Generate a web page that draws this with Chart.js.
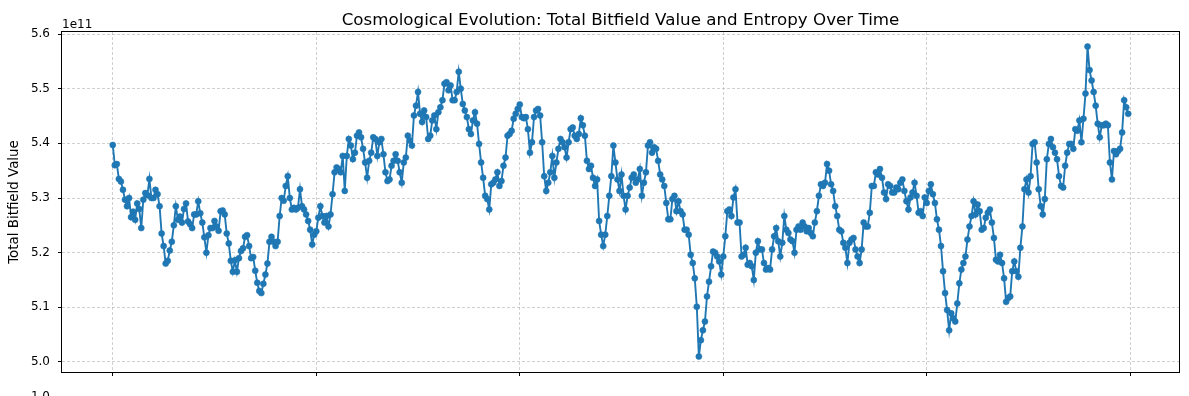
<!DOCTYPE html>
<html>
<head>
<meta charset="utf-8">
<title>Cosmological Evolution</title>
<script src="https://cdn.jsdelivr.net/npm/chart.js@4.4.1/dist/chart.umd.min.js"></script>
<style>
  html, body { margin: 0; padding: 0; background: #fff; }
  #wrap { width: 1189px; height: 396px; }
</style>
</head>
<body>
<div id="wrap"><canvas id="chart" width="1189" height="396"></canvas></div>
<script>
// total bitfield value per time step, in units of 1e11
const totalBitfield = [
  5.397, 5.36, 5.362, 5.335, 5.33, 5.315, 5.297, 5.285, 5.30, 5.265,
  5.275, 5.26, 5.29, 5.28, 5.245, 5.297, 5.309, 5.305, 5.335, 5.30,
  5.30, 5.315, 5.307, 5.285, 5.235, 5.212, 5.18, 5.185, 5.204, 5.22,
  5.25, 5.285, 5.26, 5.266, 5.255, 5.28, 5.29, 5.257, 5.252, 5.245,
  5.27, 5.27, 5.294, 5.272, 5.255, 5.228, 5.20, 5.232, 5.245, 5.245,
  5.258, 5.248, 5.24, 5.276, 5.277, 5.27, 5.235, 5.217, 5.185, 5.165,
  5.186, 5.165, 5.19, 5.203, 5.208, 5.229, 5.232, 5.212, 5.19, 5.192,
  5.167, 5.145, 5.13, 5.126, 5.143, 5.16, 5.18, 5.22, 5.229, 5.22,
  5.212, 5.22, 5.267, 5.30, 5.295, 5.322, 5.34, 5.30, 5.279, 5.282,
  5.279, 5.282, 5.316, 5.285, 5.279, 5.27, 5.258, 5.242, 5.215, 5.233,
  5.239, 5.264, 5.285, 5.267, 5.255, 5.267, 5.248, 5.27, 5.307, 5.347,
  5.356, 5.353, 5.347, 5.377, 5.313, 5.377, 5.408, 5.396, 5.371, 5.383,
  5.414, 5.42, 5.411, 5.39, 5.365, 5.337, 5.368, 5.383, 5.411,
  5.408, 5.377, 5.402, 5.408, 5.38, 5.347, 5.331, 5.334, 5.359, 5.368,
  5.38, 5.368, 5.347, 5.328, 5.365, 5.374, 5.414, 5.405, 5.396, 5.451,
  5.469, 5.494, 5.454, 5.439, 5.46, 5.448, 5.408, 5.414, 5.442, 5.451,
  5.426, 5.457, 5.466, 5.479, 5.509, 5.512, 5.497, 5.506, 5.479, 5.479,
  5.494, 5.531, 5.5, 5.472, 5.46, 5.448, 5.426, 5.417, 5.442,
  5.457, 5.436, 5.399, 5.365, 5.337, 5.304, 5.298, 5.279, 5.325, 5.328,
  5.334, 5.347, 5.322, 5.331, 5.359, 5.374, 5.414, 5.417, 5.423, 5.445,
  5.454, 5.463, 5.471, 5.448, 5.446, 5.448, 5.426, 5.383, 5.402, 5.448,
  5.46, 5.463, 5.451, 5.402, 5.34, 5.313, 5.328, 5.347, 5.377, 5.337,
  5.365, 5.39, 5.408, 5.402, 5.393, 5.374, 5.402, 5.426,
  5.429, 5.414, 5.408, 5.417, 5.446, 5.433, 5.414, 5.368, 5.353, 5.359,
  5.337, 5.322, 5.334, 5.258, 5.233, 5.212, 5.233, 5.267, 5.304, 5.34,
  5.396, 5.365, 5.334, 5.313, 5.343, 5.304, 5.279, 5.304, 5.319, 5.337,
  5.343, 5.328, 5.334, 5.353, 5.304, 5.328, 5.347, 5.396, 5.402, 5.383,
  5.393, 5.39, 5.368, 5.343, 5.334, 5.322, 5.291, 5.261,
  5.261, 5.298, 5.304, 5.276, 5.294, 5.276, 5.27, 5.242, 5.242, 5.233,
  5.196, 5.181, 5.153, 5.101, 5.01, 5.04, 5.058, 5.074, 5.12, 5.147,
  5.175, 5.202, 5.2, 5.193, 5.184, 5.16, 5.193, 5.23, 5.276, 5.279,
  5.267, 5.301, 5.316, 5.255, 5.255, 5.193, 5.196, 5.209, 5.178, 5.181,
  5.175, 5.15, 5.2, 5.221, 5.206, 5.206, 5.181, 5.169,
  5.172, 5.169, 5.206, 5.23, 5.245, 5.221, 5.193, 5.218, 5.267, 5.242,
  5.236, 5.224, 5.221, 5.2, 5.242, 5.248, 5.242, 5.255, 5.248, 5.239,
  5.245, 5.236, 5.23, 5.255, 5.276, 5.304, 5.325, 5.322, 5.328, 5.362,
  5.35, 5.325, 5.313, 5.285, 5.267, 5.242, 5.239, 5.218, 5.209, 5.181,
  5.218, 5.224, 5.227, 5.206, 5.193, 5.181, 5.206, 5.255,
  5.248, 5.248, 5.273, 5.322, 5.322, 5.347, 5.343, 5.353, 5.337, 5.31,
  5.298, 5.325, 5.322, 5.31, 5.31, 5.319, 5.316, 5.328, 5.334, 5.313,
  5.294, 5.279, 5.301, 5.31, 5.328, 5.304, 5.273, 5.276, 5.267, 5.301,
  5.291, 5.313, 5.325, 5.307, 5.291, 5.261, 5.242, 5.212, 5.166, 5.126,
  5.095, 5.058, 5.089, 5.08, 5.074, 5.107, 5.144, 5.169,
  5.181, 5.193, 5.224, 5.248, 5.267, 5.294, 5.27, 5.288, 5.276, 5.242,
  5.245, 5.264, 5.273, 5.279, 5.255, 5.227, 5.187, 5.184, 5.196, 5.181,
  5.153, 5.11, 5.117, 5.12, 5.166, 5.184, 5.166, 5.156, 5.209, 5.248,
  5.316, 5.334, 5.31, 5.34, 5.399, 5.402, 5.365, 5.316, 5.285, 5.27,
  5.298, 5.371, 5.399, 5.408, 5.393, 5.383, 5.371, 5.34,
  5.322, 5.319, 5.359, 5.383, 5.399, 5.399, 5.39, 5.426, 5.423, 5.442,
  5.402, 5.445, 5.491, 5.577, 5.534, 5.515, 5.494, 5.469, 5.436, 5.411,
  5.433, 5.433, 5.436, 5.433, 5.365, 5.334, 5.386, 5.38, 5.386, 5.39,
  5.42, 5.479, 5.466, 5.454
];
const timeSteps = totalBitfield.map((_, i) => i);

const xTicks = [0, 100, 200, 300, 400, 500];
const yTicks = [5.0, 5.1, 5.2, 5.3, 5.4, 5.5, 5.6];
const offsetLabel = '1e11';
const chartTitle = 'Cosmological Evolution: Total Bitfield Value and Entropy Over Time';
const yTitle = 'Total Bitfield Value';
const nextPanelTick = '1.0';  // first tick of the entropy panel, cut off below

const FONT = "'DejaVu Sans', 'Liberation Sans', sans-serif";
const BLUE = '#1f77b4';

Chart.defaults.font.family = FONT;
Chart.defaults.font.size = 12;
Chart.defaults.color = '#000';

// texts and the axes frame, placed like matplotlib does
const decorations = {
  id: 'decorations',
  afterDraw(chart) {
    const { ctx, chartArea: a } = chart;
    ctx.save();
    ctx.strokeStyle = '#000';
    ctx.lineWidth = 1;
    ctx.strokeRect(a.left - 0.5, a.top - 0.5, a.right - a.left + 1, a.bottom - a.top + 1);

    ctx.fillStyle = '#000';
    ctx.textAlign = 'center';
    ctx.textBaseline = 'alphabetic';
    ctx.font = '16.7px ' + FONT;
    ctx.fillText(chartTitle, (a.left + a.right) / 2, 25);

    ctx.font = '12px ' + FONT;
    ctx.textAlign = 'left';
    ctx.fillText(offsetLabel, a.left, 28);

    ctx.textAlign = 'right';
    ctx.textBaseline = 'top';
    ctx.fillText(nextPanelTick, 50, 391);

    ctx.font = '13.4px ' + FONT;
    ctx.translate(15, (a.top + a.bottom) / 2);
    ctx.rotate(-Math.PI / 2);
    ctx.textAlign = 'center';
    ctx.textBaseline = 'middle';
    ctx.fillText(yTitle, 0, 0);
    ctx.restore();
  }
};

const gridStyle = {
  color: '#b0b0b0',
  lineWidth: 0.6,
  tickBorderDash: [],
  tickColor: '#000',
  tickWidth: 1,
  tickLength: 4,
  drawTicks: true
};
// in Chart.js v4 the dash of the grid lines is read from the border options
const borderStyle = { display: false, dash: [3, 2] };

new Chart(document.getElementById('chart'), {
  type: 'line',
  data: {
    labels: timeSteps,
    datasets: [{
      data: timeSteps.map((t, i) => ({ x: t, y: totalBitfield[i] })),
      borderColor: BLUE,
      backgroundColor: BLUE,
      borderWidth: 1.9,
      pointRadius: 3,
      pointBorderWidth: 0.6,
      pointBackgroundColor: BLUE,
      pointBorderColor: BLUE,
      tension: 0,
      fill: false
    }]
  },
  options: {
    responsive: false,
    animation: false,
    events: [],
    layout: { padding: { top: 32, right: 10, left: 0, bottom: 0 } },
    plugins: {
      legend: { display: false },
      title: { display: false },
      tooltip: { enabled: false }
    },
    scales: {
      x: {
        type: 'linear',
        min: -24.95,
        max: 523.95,
        grid: gridStyle,
        border: borderStyle,
        ticks: { display: false },
        afterBuildTicks: (scale) => { scale.ticks = xTicks.map(v => ({ value: v })); },
        afterFit: (scale) => { scale.height = 24; }
      },
      y: {
        type: 'linear',
        min: 4.9817,
        max: 5.6037,
        grid: gridStyle,
        border: borderStyle,
        ticks: {
          padding: 8,
          color: '#000',
          font: { size: 12 },
          callback: (v) => v.toFixed(1)
        },
        afterBuildTicks: (scale) => { scale.ticks = yTicks.map(v => ({ value: v })); },
        afterFit: (scale) => { scale.width = 62; }
      }
    }
  },
  plugins: [decorations]
});
</script>
</body>
</html>
